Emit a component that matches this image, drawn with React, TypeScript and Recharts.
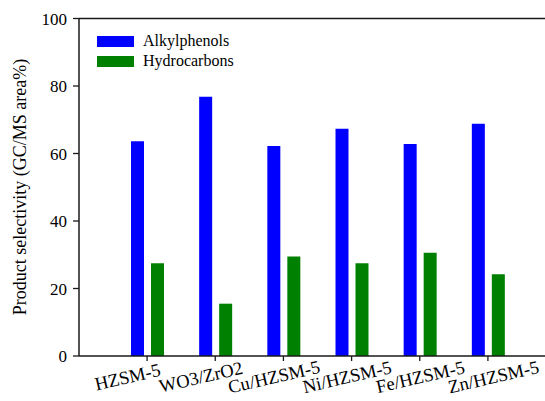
import { Bar, BarChart, XAxis, YAxis, ReferenceLine } from "recharts"

const catalysts = ["HZSM-5", "WO3/ZrO2", "Cu/HZSM-5", "Ni/HZSM-5", "Fe/HZSM-5", "Zn/HZSM-5"]
const alkylphenols = [63.6, 76.8, 62.2, 67.3, 62.8, 68.8]
const hydrocarbons = [27.5, 15.5, 29.5, 27.5, 30.6, 24.2]
const yTicks = [0, 20, 40, 60, 80, 100]

const series = [
  { key: "alkylphenols", name: "Alkylphenols", color: "#0000ff" },
  { key: "hydrocarbons", name: "Hydrocarbons", color: "#008000" },
]

const data = catalysts.map((name, i) => ({
  name,
  alkylphenols: alkylphenols[i],
  hydrocarbons: hydrocarbons[i],
}))

const font = "Liberation Serif"
const axisColor = "#1a1a1a"

function CatalystTick(props: any) {
  const { x, y, payload, index } = props
  // labels drift right a little across the axis, as in the original figure
  const cx = x - 18 + 5 * index
  const cy = y + 22
  return (
    <text
      x={cx}
      y={cy}
      textAnchor="middle"
      fontSize={18.5}
      fontFamily={font}
      fill="#000"
      transform={`rotate(-13 ${cx} ${cy})`}
    >
      {payload.value}
    </text>
  )
}

function LegendBox() {
  return (
    <div
      style={{
        position: "absolute",
        left: 97,
        top: 31,
        fontFamily: font,
        fontSize: 16,
        color: "#000",
        lineHeight: "20px",
      }}
    >
      {series.map((s) => (
        <div key={s.key} style={{ display: "flex", alignItems: "center", height: 20 }}>
          <span style={{ display: "inline-block", width: 37, height: 11, background: s.color, marginRight: 9 }} />
          <span>{s.name}</span>
        </div>
      ))}
    </div>
  )
}

export default function App() {
  return (
    <div
      style={{
        position: "absolute",
        left: 0,
        top: 0,
        width: 545,
        height: 401,
        overflow: "hidden",
        background: "#fff",
        fontFamily: font,
      }}
    >
      <BarChart
        width={545}
        height={401}
        data={data}
        margin={{ top: 18.5, right: -15, bottom: 0, left: 0 }}
        barSize={13}
        barGap={7}
      >
        <XAxis
          dataKey="name"
          height={45}
          padding={{ left: 34, right: 38 }}
          axisLine={{ stroke: axisColor, strokeWidth: 1.5 }}
          tickLine={{ stroke: axisColor, strokeWidth: 1.3 }}
          tickSize={5}
          tickMargin={0}
          interval={0}
          tick={<CatalystTick />}
        />
        <YAxis
          width={79}
          domain={[0, 100]}
          ticks={yTicks}
          axisLine={{ stroke: axisColor, strokeWidth: 1.5 }}
          tickLine={{ stroke: axisColor, strokeWidth: 1.3 }}
          tickSize={6}
          tickMargin={6}
          tick={{ fontSize: 17, fontFamily: font, fill: "#000" }}
          label={() => (
            <text
              x={20}
              y={187}
              transform="rotate(-90 20 187)"
              textAnchor="middle"
              dominantBaseline="central"
              fontSize={18}
              fontFamily={font}
              fill="#000"
            >
              Product selectivity (GC/MS area%)
            </text>
          )}
        />
        <ReferenceLine y={100} stroke={axisColor} strokeWidth={1.5} />
        {series.map((s) => (
          <Bar key={s.key} dataKey={s.key} name={s.name} fill={s.color} isAnimationActive={false} />
        ))}
      </BarChart>
      <LegendBox />
    </div>
  )
}
